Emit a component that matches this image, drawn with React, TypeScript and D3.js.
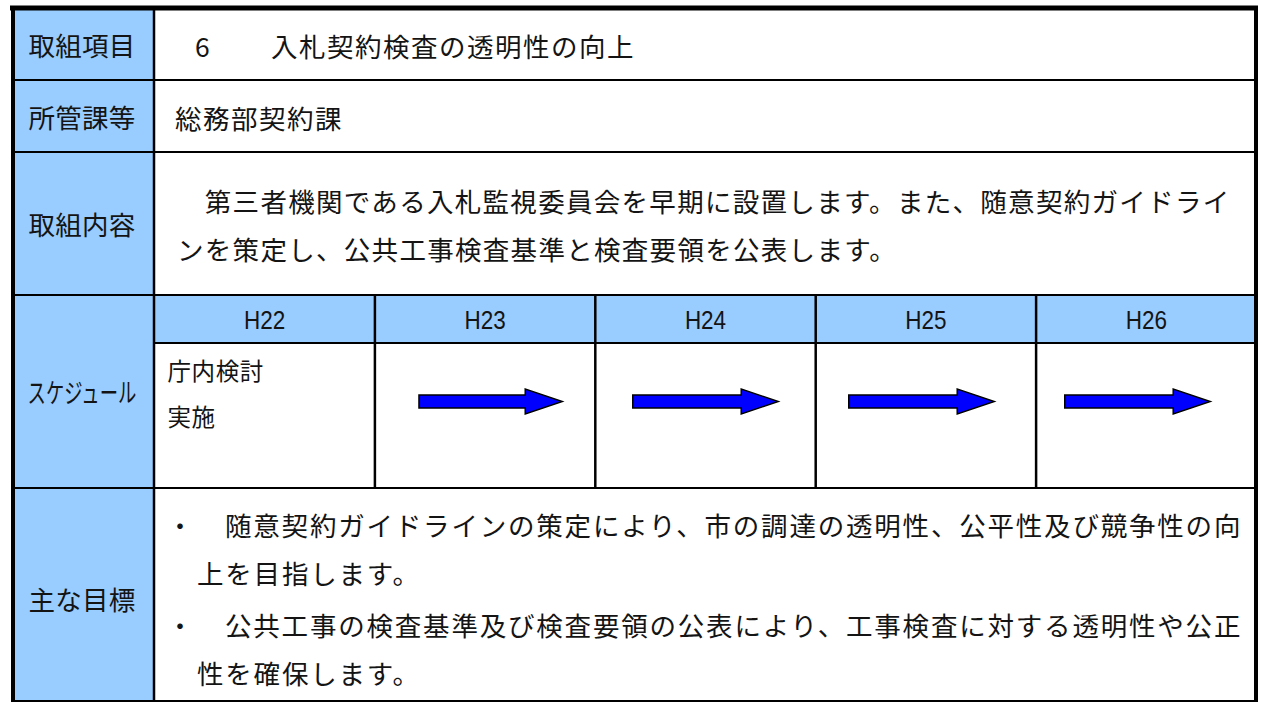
import React from 'react';
import * as d3 from 'd3';

// ---- data ----
const rowLabels = ['取組項目', '所管課等', '取組内容', 'スケジュール', '主な目標'];
const itemNo = '6';
const itemTitle = '入札契約検査の透明性の向上';
const department = '総務部契約課';
const contentLines = [
  '　第三者機関である入札監視委員会を早期に設置します。また、随意契約ガイドライ',
  'ンを策定し、公共工事検査基準と検査要領を公表します。',
];
const years = ['H22', 'H23', 'H24', 'H25', 'H26'];
const yearNums = [22, 23, 24, 25, 26];
const scheduleTasks = ['庁内検討', '実施'];
// arrows in fiscal-year units (23.0 = left edge of the H23 column)
const arrowStart = [23.2, 24.17, 25.15, 26.13];
const arrowEnd = [23.85, 24.83, 25.81, 26.79];
const goals = [
  ['随意契約ガイドラインの策定により、市の調達の透明性、公平性及び競争性の向', '上を目指します。'],
  ['公共工事の検査基準及び検査要領の公表により、工事検査に対する透明性や公正', '性を確保します。'],
];

// ---- layout ----
const W = 1262;
const H = 702;
const left = 13;
const right = 1256;
const top = 8;
const labelRight = 154;
const rowEdges = [top, 80, 152, 295, 488, 708];
const headerBottom = 343;
const blue = '#99CCFF';
const ink = '#141414';
const jp = '"Noto Sans CJK JP", "Noto Sans", sans-serif';

const App: React.FC = () => {
  const x = d3.scaleLinear().domain([22, 27]).range([labelRight + 0.5, right + 0.5]);
  const rowMid = (i: number) => (rowEdges[i] + rowEdges[i + 1]) / 2;
  const arrowY = 401.5;

  const arrowPath = (x0: number, x1: number, cy: number) => {
    const p = d3.path();
    const head = 37;
    p.moveTo(x0, cy - 6.5);
    p.lineTo(x1 - head, cy - 6.5);
    p.lineTo(x1 - head, cy - 12.5);
    p.lineTo(x1, cy);
    p.lineTo(x1 - head, cy + 12.5);
    p.lineTo(x1 - head, cy + 6.5);
    p.lineTo(x0, cy + 6.5);
    p.closePath();
    return p.toString();
  };

  const bodyText = { fontFamily: jp, fontSize: 26.5, fill: ink, letterSpacing: 1.5 } as const;

  return (
    <div style={{ position: 'absolute', left: 0, top: 0 }}>
      <svg width={W} height={H} style={{ display: 'block', background: '#fff' }}>
        {/* fills */}
        <rect x={left} y={top} width={labelRight - left} height={H - top} fill={blue} />
        <rect x={labelRight} y={rowEdges[3]} width={right - labelRight} height={headerBottom - rowEdges[3]} fill={blue} />

        {/* row labels */}
        {rowLabels.map((label, i) =>
          i === 3 ? (
            <text
              key={label}
              transform={`translate(82,${rowMid(i)}) scale(0.68,1)`}
              textAnchor="middle"
              dominantBaseline="central"
              fontFamily={jp}
              fontSize={27}
              fill={ink}
            >
              {label}
            </text>
          ) : (
            <text
              key={label}
              x={82}
              y={i === 4 ? 598 : rowMid(i)}
              textAnchor="middle"
              dominantBaseline="central"
              fontFamily={jp}
              fontSize={26.5}
              letterSpacing={0.3}
              fill={ink}
            >
              {label}
            </text>
          )
        )}

        {/* row 1 */}
        <text x={195} y={45} dominantBaseline="central" {...bodyText}>{itemNo}</text>
        <text x={271} y={45} dominantBaseline="central" {...bodyText}>{itemTitle}</text>

        {/* row 2 */}
        <text x={175} y={117} dominantBaseline="central" {...bodyText}>{department}</text>

        {/* row 3 */}
        {contentLines.map((line, i) => (
          <text key={i} x={177} y={200 + i * 48} dominantBaseline="central" {...bodyText} letterSpacing={1.3}>
            {line}
          </text>
        ))}

        {/* schedule header */}
        {years.map((yr, i) => (
          <text
            key={yr}
            transform={`translate(${(x(yearNums[i]) + x(yearNums[i] + 1)) / 2},320) scale(0.9,1)`}
            textAnchor="middle"
            dominantBaseline="central"
            fontFamily='"Liberation Sans", Arial, sans-serif'
            fontSize={25}
            fill={ink}
          >
            {yr}
          </text>
        ))}

        {/* schedule tasks */}
        {scheduleTasks.map((t, i) => (
          <text
            key={t}
            x={x(22) + 13}
            y={370 + i * 46}
            dominantBaseline="central"
            fontFamily={jp}
            fontSize={23.5}
            letterSpacing={0.6}
            fill={ink}
          >
            {t}
          </text>
        ))}

        {/* arrows */}
        {arrowStart.map((s, i) => (
          <path
            key={i}
            d={arrowPath(x(s), x(arrowEnd[i]), arrowY)}
            fill="#0000FF"
            stroke="#000"
            strokeWidth={1.5}
            strokeLinejoin="miter"
          />
        ))}

        {/* goals */}
        {goals.map((g, gi) => (
          <g key={gi}>
            <text x={180} y={524 + gi * 100} textAnchor="middle" dominantBaseline="central" fontFamily={jp} fontSize={26.5} fill={ink}>
              ・
            </text>
            <text x={225} y={524 + gi * 100} dominantBaseline="central" {...bodyText} letterSpacing={1.8}>
              {g[0]}
            </text>
            <text x={197} y={572 + gi * 100} dominantBaseline="central" {...bodyText} letterSpacing={1.8}>
              {g[1]}
            </text>
          </g>
        ))}

        {/* grid lines */}
        {rowEdges.slice(1, 5).map((y, i) => (
          <line key={i} x1={left} x2={right} y1={y} y2={y} stroke="#000" strokeWidth={2.2} />
        ))}
        <line x1={labelRight} x2={right} y1={headerBottom} y2={headerBottom} stroke="#000" strokeWidth={2.2} />
        {yearNums.slice(1).map((yn) => (
          <line key={yn} x1={x(yn)} x2={x(yn)} y1={rowEdges[3]} y2={rowEdges[4]} stroke="#000" strokeWidth={2.5} />
        ))}
        <line x1={labelRight} x2={labelRight} y1={top} y2={H} stroke="#000" strokeWidth={2.5} />

        {/* outer frame */}
        <line x1={left - 3} x2={right + 2} y1={top} y2={top} stroke="#000" strokeWidth={5} />
        <line x1={left} x2={left} y1={top} y2={H} stroke="#000" strokeWidth={4} />
        <line x1={right} x2={right} y1={top} y2={H} stroke="#000" strokeWidth={4} />
        <line x1={left} x2={right} y1={701} y2={701} stroke="#000" strokeWidth={2} />
      </svg>
    </div>
  );
};

export default App;
